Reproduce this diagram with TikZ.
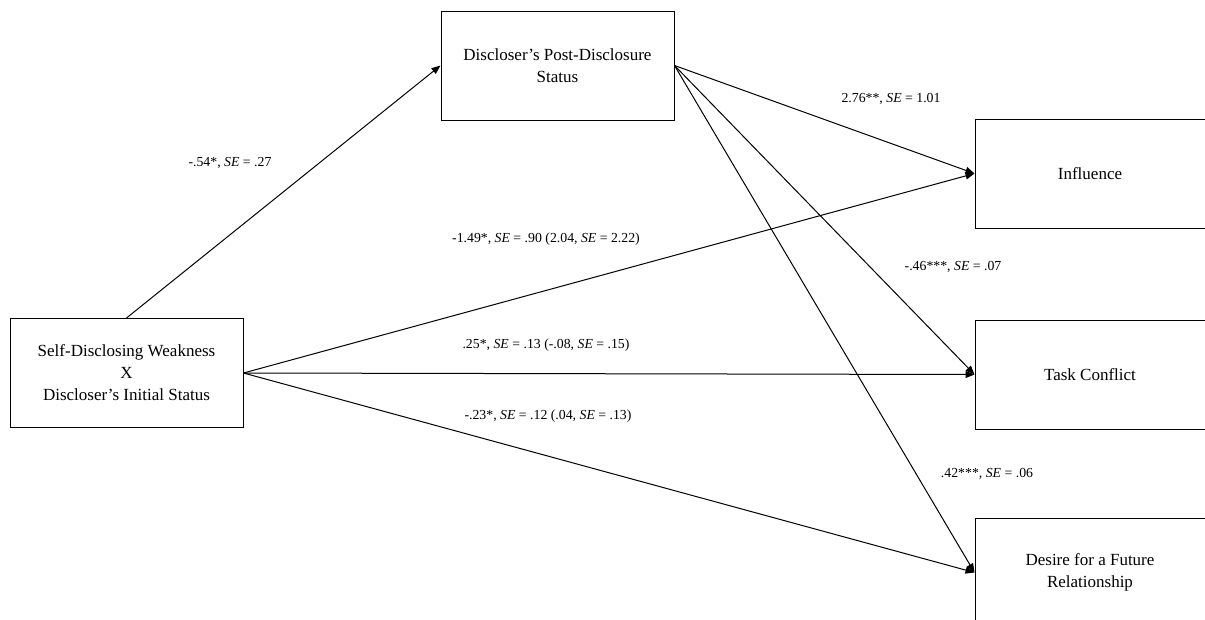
\documentclass[tikz,border=0pt]{standalone}
\usepackage{fontspec}
\setmainfont{Liberation Serif}
\usetikzlibrary{positioning,arrows.meta}

\begin{document}
\begin{tikzpicture}
    [x=1pt, y=-1pt,
    box/.style={draw, line width=1pt, minimum width=233pt, minimum height=109pt,
      inner sep=0pt, align=center, font=\fontsize{17}{22}\selectfont},
    coef/.style={font=\fontsize{13.8}{15}\selectfont, inner sep=0pt},
    arr/.style={line width=1pt, -{Triangle[length=9pt,width=7pt]}}]
  \clip (0,0) rectangle (1205,619);
  \node [box] (self) at (126.5,373) {Self-Disclosing Weakness\\ X\\ Discloser's Initial Status};
  \node [box] (post) at (557.5,65.5) {Discloser's Post-Disclosure\\ Status};
  \node [box, minimum width=230pt] (infl) at (1090,173.5) {Influence};
  \node [box, minimum width=230pt] (task) [below=91pt of infl] {Task Conflict};
  \node [box, minimum width=230pt] (desire) [below=88pt of task] {Desire for a Future\\ Relationship};

  \draw [arr] (self.north) -- (post.west);
  \draw [arr] (post.east) -- (infl.west);
  \draw [arr] (post.east) -- (task.west);
  \draw [arr] (post.east) -- (desire.west);
  \draw [arr] (self.east) -- (infl.west);
  \draw [arr] (self.east) -- (task.west);
  \draw [arr] (self.east) -- (desire.west);

  \node [coef] (c1) at (230,163) {-.54*, \textit{SE} = .27};
  \node [coef] (c2) at (891,99) {2.76**, \textit{SE} = 1.01};
  \node [coef] (c3) at (546,239) {-1.49*, \textit{SE} = .90 (2.04, \textit{SE} = 2.22)};
  \node [coef] (c4) at (953,267) {-.46***, \textit{SE} = .07};
  \node [coef] (c5) at (546,345) {.25*, \textit{SE} = .13 (-.08, \textit{SE} = .15)};
  \node [coef] (c6) at (548,416) {-.23*, \textit{SE} = .12 (.04, \textit{SE} = .13)};
  \node [coef] (c7) at (987,474) {.42***, \textit{SE} = .06};
\end{tikzpicture}
\end{document}
